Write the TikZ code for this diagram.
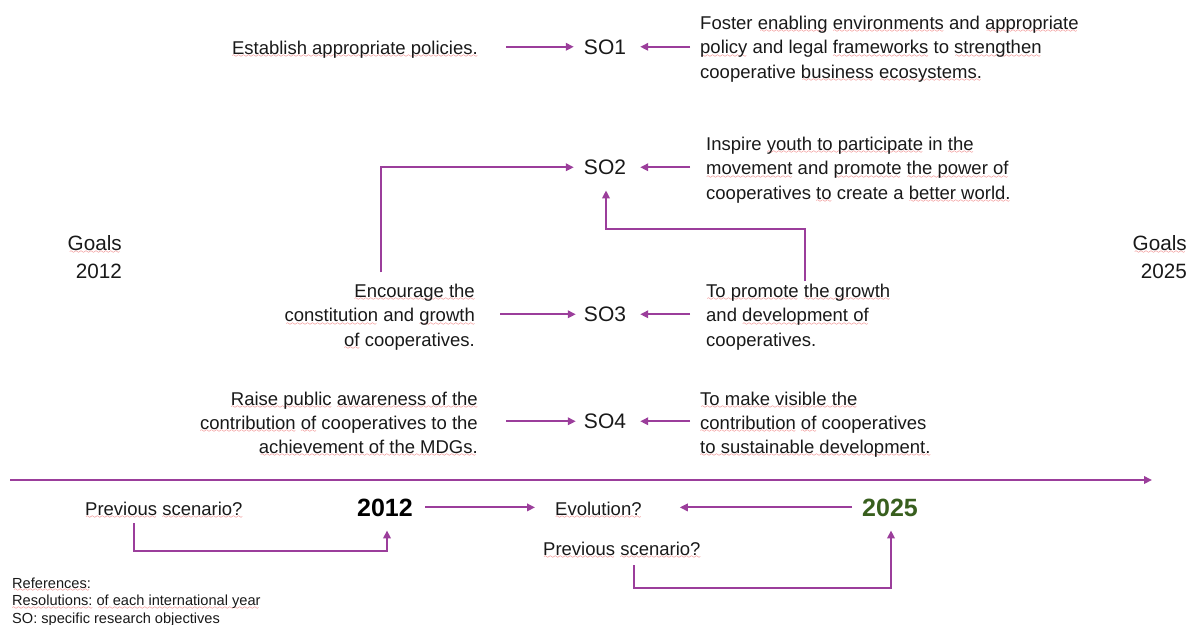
\documentclass[tikz,border=0pt]{standalone}
\usepackage{fontspec}
\setmainfont{Liberation Sans}
\usetikzlibrary{arrows.meta,calc}
\definecolor{pur}{RGB}{155,62,155}
\definecolor{sqred}{RGB}{228,40,40}
\definecolor{grn}{RGB}{56,95,30}
\definecolor{txt}{RGB}{25,25,25}
\font\sqfont=lasy6 \relax
\newsavebox\sqbox
\newcommand\sq[1]{\sbox\sqbox{#1}\rlap{\color{sqred}\cleaders\hbox{\lower3.8pt\hbox{\sqfont\char58}}\hskip\wd\sqbox}\usebox\sqbox}
\begin{document}
\begin{tikzpicture}[x=1pt,y=-1pt,
  body/.style={inner sep=0pt,text=txt,font=\fontsize{18.5}{22}\selectfont},
  so/.style={inner sep=0pt,text=txt,font=\fontsize{21}{24}\selectfont},
  goal/.style={inner sep=0pt,text=txt,font=\fontsize{20.7}{24}\selectfont},
  yr/.style={inner sep=0pt,font=\fontsize{25}{28}\selectfont\bfseries},
  refs/.style={inner sep=0pt,text=txt,font=\fontsize{14.6}{17}\selectfont},
  arr/.style={draw=pur,line width=1.9pt,-{Triangle[length=8pt,width=7.5pt]}}]
\useasboundingbox (0,0) rectangle (1188,624);

% ---- SO1 ----
\node[body,anchor=base east] (est) at (478,54) {\sq{Establish appropriate policies.}};
\node[so,anchor=base] (SO1) at (605,54) {SO1};
\node[body,anchor=base west] (f1) at (700,29) {Foster \sq{enabling} \sq{environments} and \sq{appropriate}};
\node[body,anchor=base west] (f2) at (700,53.5) {\sq{policy} and legal \sq{frameworks} to \sq{strengthen}};
\node[body,anchor=base west] (f3) at (700,78) {cooperative \sq{business} \sq{ecosystems.}};
\draw[arr] ($(est.east|-SO1.west)+(28,0)$) -- ($(SO1.west)+(-10,0)$);
\draw[arr] ($(f2.west|-SO1.east)+(-10,0)$) -- ($(SO1.east)+(14,0)$);

% ---- SO2 ----
\node[so,anchor=base] (SO2) at (605,174.5) {SO2};
\node[body,anchor=base west] (i1) at (706,150) {Inspire \sq{youth to participate} in \sq{the}};
\node[body,anchor=base west] (i2) at (706,174.5) {\sq{movement} and \sq{promote} \sq{the power of}};
\node[body,anchor=base west] (i3) at (706,199) {cooperatives \sq{to} create a \sq{better world.}};
\draw[arr] ($(i2.west|-SO2.east)+(-16,0)$) -- ($(SO2.east)+(14,0)$);

% ---- Goals ----
\node[goal,anchor=base east] (g1) at (122,250) {\sq{Goals}};
\node[goal,anchor=base east] (g2) at (122,278) {2012};
\node[goal,anchor=base east] (h1) at (1187,250) {\sq{Goals}};
\node[goal,anchor=base east] (h2) at (1187,278) {2025};

% ---- SO3 ----
\node[so,anchor=base] (SO3) at (605,321.5) {SO3};
\node[body,anchor=base east] (e1) at (475,297) {\sq{Encourage the}};
\node[body,anchor=base east] (e2) at (475,321.5) {\sq{constitution} and \sq{growth}};
\node[body,anchor=base east] (e3) at (475,346) {\sq{of} cooperatives.};
\node[body,anchor=base west] (p1) at (706,297) {\sq{To promote} \sq{the growth}};
\node[body,anchor=base west] (p2) at (706,321.5) {and \sq{development of}};
\node[body,anchor=base west] (p3) at (706,346) {cooperatives.};
\draw[arr] ($(e2.east|-SO3.west)+(25,0)$) -- ($(SO3.west)+(-8,0)$);
\draw[arr] ($(p2.west|-SO3.east)+(-16,0)$) -- ($(SO3.east)+(14,0)$);
\draw[arr] ($(e1.north west)+(27,-11)$) |- ($(SO2.west)+(-10,0)$);
\draw[arr] ($(p1.north west)+(99,-2)$) -- ++(0,-52) -| ($(SO2.south)+(1,15.5)$);

% ---- SO4 ----
\node[so,anchor=base] (SO4) at (605,428.5) {SO4};
\node[body,anchor=base east] (r1) at (478,405) {\sq{Raise public} \sq{awareness of the}};
\node[body,anchor=base east] (r2) at (478,429) {\sq{contribution} \sq{of} cooperatives to the};
\node[body,anchor=base east] (r3) at (478,453) {\sq{achievement of the MDGs.}};
\node[body,anchor=base west] (m1) at (700,405) {\sq{To make visible the}};
\node[body,anchor=base west] (m2) at (700,429) {\sq{contribution} \sq{of} cooperatives};
\node[body,anchor=base west] (m3) at (700,453) {\sq{to sustainable development.}};
\draw[arr] ($(r2.east|-SO4.west)+(28,0)$) -- ($(SO4.west)+(-8,0)$);
\draw[arr] ($(m2.west|-SO4.east)+(-10,0)$) -- ($(SO4.east)+(14,0)$);

% ---- timeline ----
\coordinate (tl0) at (10,480);
\coordinate (tl1) at (1152,480);
\draw[arr] (tl0) -- (tl1);

% ---- bottom row ----
\node[body,anchor=base west] (prev1) at (85,515) {\sq{Previous} \sq{scenario?}};
\node[yr,anchor=base,text=black] (y2012) at (385,516) {2012};
\node[body,anchor=base west] (evo) at (555,515) {\sq{Evolution?}};
\node[yr,anchor=base,text=grn] (y2025) at (890,516) {2025};
\node[body,anchor=base west] (prev2) at (543,555) {\sq{Previous} \sq{scenario?}};
\draw[arr] ($(y2012.east)+(12,0)$) -- ($(y2012.east-|evo.west)+(-20,0)$);
\draw[arr] ($(y2025.west)+(-10,0)$) -- ($(y2025.west-|evo.east)+(38,0)$);
\draw[arr] ($(prev1.south west)+(49,4)$) -- ++(0,28) -| ($(y2012.south)+(2,14)$);
\draw[arr] ($(prev2.south west)+(91,6)$) -- ++(0,23) -| ($(y2025.south)+(1,14)$);

% ---- references ----
\node[refs,anchor=base west] (ref1) at (12,588) {\sq{References:}};
\node[refs,anchor=base west] (ref2) at (12,605.5) {\sq{Resolutions:} \sq{of each international year}};
\node[refs,anchor=base west] (ref3) at (12,623) {SO: specific research objectives};
\end{tikzpicture}
\end{document}
